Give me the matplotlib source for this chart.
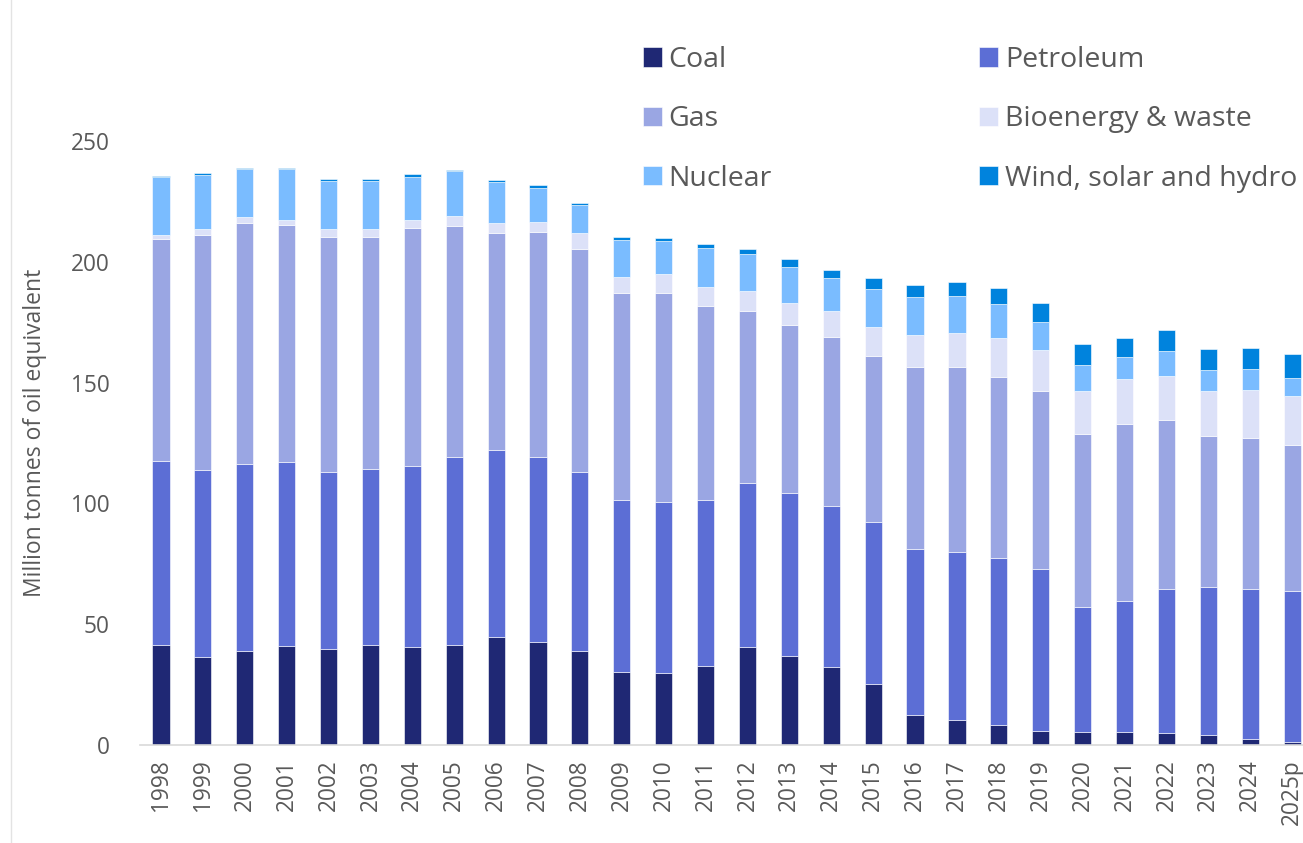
import matplotlib
matplotlib.use("Agg")
import matplotlib.pyplot as plt
import numpy as np
from matplotlib.lines import Line2D

years = ["1998", "1999", "2000", "2001", "2002", "2003", "2004", "2005", "2006", "2007",
         "2008", "2009", "2010", "2011", "2012", "2013", "2014", "2015", "2016", "2017",
         "2018", "2019", "2020", "2021", "2022", "2023", "2024", "2025p"]

coal = [41.4, 36.6, 38.8, 41.0, 39.6, 41.4, 40.5, 41.4, 44.5, 42.7,
        38.8, 30.1, 29.7, 32.6, 40.5, 37.0, 32.2, 25.1, 12.4, 10.4,
        8.2, 6.0, 5.5, 5.5, 5.1, 4.1, 2.5, 1.1]
petroleum = [76.1, 77.4, 77.4, 76.1, 73.6, 73.0, 74.9, 77.9, 77.5, 76.6,
             74.4, 71.2, 70.8, 68.7, 67.9, 67.3, 66.9, 67.1, 68.8, 69.4,
             69.1, 67.0, 51.6, 54.3, 59.5, 61.3, 62.1, 62.5]
gas = [91.9, 97.2, 99.9, 98.1, 97.2, 96.0, 98.4, 95.5, 89.8, 92.9,
       92.3, 85.7, 86.5, 80.6, 71.3, 69.4, 69.7, 68.8, 75.3, 76.7,
       75.0, 73.5, 71.8, 73.1, 70.0, 62.3, 62.3, 60.5]
bioenergy = [1.8, 2.2, 2.5, 2.1, 3.0, 3.0, 3.5, 4.2, 4.2, 4.2,
             6.3, 6.7, 7.9, 7.7, 8.3, 9.1, 10.9, 12.1, 13.4, 14.0,
             16.1, 16.9, 17.6, 18.4, 18.3, 18.8, 20.0, 20.2]
nuclear = [23.7, 22.4, 19.7, 21.0, 20.1, 20.1, 17.9, 18.5, 17.0, 14.1,
           11.6, 15.3, 13.8, 16.1, 15.3, 15.1, 13.6, 15.7, 15.5, 15.3,
           14.0, 11.8, 10.8, 9.5, 10.1, 8.7, 8.7, 7.7]
renewables = [0.6, 0.8, 0.6, 0.6, 0.6, 0.6, 1.1, 0.6, 0.8, 1.3,
              0.9, 1.2, 1.1, 1.6, 2.2, 3.2, 3.5, 4.5, 4.8, 5.7,
              6.6, 7.6, 8.5, 7.5, 8.8, 8.7, 8.8, 9.8]

series_names = ["Coal", "Petroleum", "Gas", "Bioenergy & waste", "Nuclear", "Wind, solar and hydro"]
series_colors = ["#1F2874", "#5C6ED5", "#9AA6E3", "#DCE1F8", "#7ABCFF", "#0083DD"]
series_values = [coal, petroleum, gas, bioenergy, nuclear, renewables]

yticks = [0, 50, 100, 150, 200, 250]

plt.rcParams['font.family'] = ['Open Sans', 'DejaVu Sans']
text_color = "#595959"

W, H = 1303, 843
fig = plt.figure(figsize=(W / 100, H / 100), dpi=100)
ax = fig.add_axes([140 / W, (H - 745) / H, 1 - 140 / W, (745 - 141) / H])

x = np.arange(len(years))
bottom = np.zeros(len(years))
handles = []
for name, col, vals in zip(series_names, series_colors, series_values):
    v = np.array(vals)
    b = ax.bar(x, v, width=0.41, bottom=bottom, color=col, label=name,
               edgecolor="white", linewidth=0.4)
    handles.append(b)
    bottom += v

ax.set_xlim(-0.5, 27.26)
ax.set_ylim(0, 250)
ax.set_yticks(yticks)
ax.set_yticklabels([str(t) for t in yticks])
ax.set_xticks(x)
ax.set_xticklabels(years, rotation=90)
ax.tick_params(axis="both", length=0, labelsize=16.3, colors=text_color)
ax.tick_params(axis="y", pad=22)
ax.tick_params(axis="x", pad=10)
for s in ["top", "right", "left"]:
    ax.spines[s].set_visible(False)
ax.spines["bottom"].set_color("#D9D9D9")
ax.spines["bottom"].set_linewidth(1.2)

fig.text(35 / W, 1 - 433 / H, "Million tonnes of oil equivalent", rotation=90,
         ha="center", va="center", fontsize=16.5, color=text_color)

order = [0, 2, 4, 1, 3, 5]
leg = fig.legend([handles[i] for i in order], [series_names[i] for i in order],
                 ncol=2, loc="upper left", bbox_to_anchor=(643 / W, 1 - 46 / H),
                 frameon=False, fontsize=20.5, handlelength=0.65, handleheight=0.65,
                 handletextpad=0.25, labelspacing=1.1, columnspacing=7.28,
                 borderpad=0, borderaxespad=0)
for t in leg.get_texts():
    t.set_color(text_color)

fig.add_artist(Line2D([10.5 / W, 10.5 / W], [0, 1], color="#E3E3E3", linewidth=1))

fig.savefig("out.png", dpi=100, facecolor="white")
